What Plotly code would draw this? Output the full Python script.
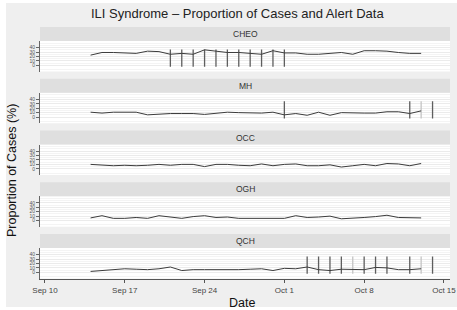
import pandas as pd
import plotly.graph_objects as go
from plotly.subplots import make_subplots

# ---------------- data ----------------
dates = pd.date_range("2017-09-14", "2017-10-13", freq="D")
sites = ["CHEO", "MH", "OCC", "OGH", "QCH"]

cheo = [23, 29, 29, 28, 27, 32, 31, 25, 27, 25, 35, 32, 29, 29, 27,
        25, 33, 28, 28, 25, 25, 27, 29, 25, 33, 33, 32, 29, 27, 27]
mh = [11, 9, 11, 11, 11, 5, 7, 8, 8, 8, 6, 8, 11, 10, 9,
      9, 11, 5, 8, 4, 11, 4, 10, 9, 9, 9, 12, 12, 8, 14]
occ = [10, 9, 7, 8, 7, 8, 10, 8, 10, 10, 5, 10, 10, 8, 7,
       11, 7, 10, 11, 7, 7, 9, 4, 7, 10, 7, 12, 11, 7, 12]
ogh = [6, 11, 5, 5, 7, 5, 11, 8, 5, 9, 11, 7, 8, 5, 5,
       5, 5, 5, 11, 7, 8, 10, 4, 5, 7, 9, 12, 7, 6, 6]
qch = [2, 4, 6, 8, 7, 6, 8, 12, 4, 6, 6, 6, 5, 6, 7,
       8, 4, 9, 8, 12, 6, 4, 7, 6, 6, 11, 10, 6, 6, 8]
values = {"CHEO": cheo, "MH": mh, "OCC": occ, "OGH": ogh, "QCH": qch}

# alert dates (strong / weak)
alerts_strong = {
    "CHEO": ["2017-09-21", "2017-09-22", "2017-09-23", "2017-09-24", "2017-09-25",
             "2017-09-26", "2017-09-27", "2017-09-28", "2017-09-29", "2017-09-30",
             "2017-10-01"],
    "MH": ["2017-10-01", "2017-10-12", "2017-10-14"],
    "OCC": [],
    "OGH": [],
    "QCH": ["2017-10-03", "2017-10-04", "2017-10-05", "2017-10-06", "2017-10-08",
            "2017-10-09", "2017-10-10", "2017-10-12", "2017-10-14"],
}
alerts_weak = {
    "CHEO": [], "MH": ["2017-10-13"], "OCC": [], "OGH": [],
    "QCH": ["2017-10-07", "2017-10-13"],
}
alert_low, alert_high = -3, 36

y_ticks = [0, 10, 20, 30, 40]
x_ticks = ["2017-09-10", "2017-09-17", "2017-09-24", "2017-10-01", "2017-10-08", "2017-10-15"]
x_tick_text = ["Sep 10", "Sep 17", "Sep 24", "Oct 1", "Oct 8", "Oct 15"]

# ---------------- layout helpers ----------------
W, H = 457, 310
L, R, T, B = 40, 7, 27, 31
PH = H - T - B
PW = W - L - R


def py(p):
    return (H - B - p) / PH


def px(p):
    return (p - L) / PW


pitch = 51.75
panel_h = 30.5
strip_h = 14

fig = make_subplots(rows=5, cols=1, shared_xaxes=True)

shapes = []
annotations = []
FONT = "Liberation Sans, Arial, sans-serif"

for i, s in enumerate(sites):
    r = i + 1
    top = 41 + pitch * i
    bot = top + panel_h
    yax = "yaxis" if i == 0 else f"yaxis{r}"
    fig.layout[yax].domain = [py(bot), py(top)]

    def seg(ds):
        xs, ys = [], []
        for d in ds:
            xs += [d, d, None]
            ys += [alert_low, alert_high, None]
        return xs, ys

    xs, ys = seg(alerts_weak[s])
    if xs:
        fig.add_trace(go.Scatter(x=xs, y=ys, mode="lines",
                                 line=dict(color="#c4c4c4", width=1.3),
                                 showlegend=False, hoverinfo="skip"), row=r, col=1)
    xs, ys = seg(alerts_strong[s])
    if xs:
        fig.add_trace(go.Scatter(x=xs, y=ys, mode="lines",
                                 line=dict(color="#5e5e5e", width=1.3),
                                 showlegend=False, hoverinfo="skip"), row=r, col=1)
    fig.add_trace(go.Scatter(x=dates, y=values[s], mode="lines",
                             line=dict(color="#3c3c3c", width=1),
                             showlegend=False), row=r, col=1)

    fig.update_yaxes(range=[-14, 55], tickvals=y_ticks, ticktext=[str(v) for v in y_ticks],
                     tickfont=dict(size=5, color="#555", family=FONT),
                     ticks="outside", ticklen=3, tickcolor="#666", tickwidth=0.8,
                     showline=True, linecolor="#666", linewidth=0.8,
                     showgrid=True, gridcolor="#ebebeb", gridwidth=0.8,
                     minor=dict(tickvals=[-10, 5, 15, 25, 35, 45, 50], showgrid=True,
                                gridcolor="#f4f4f4", gridwidth=0.6, ticks=""),
                     zeroline=False, fixedrange=True, automargin=False, row=r, col=1)
    fig.update_xaxes(range=["2017-09-09 13:30", "2017-10-15 12:45"],
                     showgrid=False, zeroline=False, automargin=False, row=r, col=1)

    shapes.append(dict(type="rect", xref="paper", yref="paper", x0=0, x1=1,
                       y0=py(top), y1=py(top - strip_h), fillcolor="#dfdfdf",
                       line=dict(width=0), layer="above"))
    annotations.append(dict(text=s, xref="paper", yref="paper", x=0.5, y=py(top - strip_h / 2),
                            showarrow=False, xanchor="center", yanchor="middle",
                            font=dict(size=8.5, color="#333", family=FONT)))

fig.update_xaxes(tickvals=x_ticks, ticktext=x_tick_text, ticks="outside", ticklen=4,
                 tickcolor="#555", tickwidth=0.8, showline=True, linecolor="#555",
                 linewidth=0.8, tickfont=dict(size=8, color="#444", family=FONT),
                 row=5, col=1)

# white page edges
for x0, x1, y0, y1 in [(0, W, 0, 3), (0, 6, 0, H), (0, W, 307, H)]:
    shapes.append(dict(type="rect", xref="paper", yref="paper",
                       x0=px(x0), x1=px(x1), y0=py(y1), y1=py(y0),
                       fillcolor="white", line=dict(width=0), layer="above"))

annotations += [
    dict(text="ILI Syndrome \u2013 Proportion of Cases and Alert Data", xref="paper", yref="paper",
         x=px(237), y=py(14), showarrow=False, xanchor="center", yanchor="middle",
         font=dict(size=13, color="#222", family=FONT)),
    dict(text="Proportion of Cases (%)", xref="paper", yref="paper",
         x=px(12), y=py(171), showarrow=False, textangle=-90, xanchor="center", yanchor="middle",
         font=dict(size=12.5, color="#111", family=FONT)),
    dict(text="Date", xref="paper", yref="paper",
         x=px(242), y=py(302.5), showarrow=False, xanchor="center", yanchor="middle",
         font=dict(size=12.5, color="#111", family=FONT)),
]

fig.update_layout(width=W, height=H, margin=dict(l=L, r=R, t=T, b=B, autoexpand=False),
                  paper_bgcolor="#efefef", plot_bgcolor="white",
                  shapes=shapes, annotations=annotations, showlegend=False)

fig.write_html("out.html", config={"displayModeBar": False},
               post_script="document.body.style.margin='0';document.body.style.overflow='hidden';")
